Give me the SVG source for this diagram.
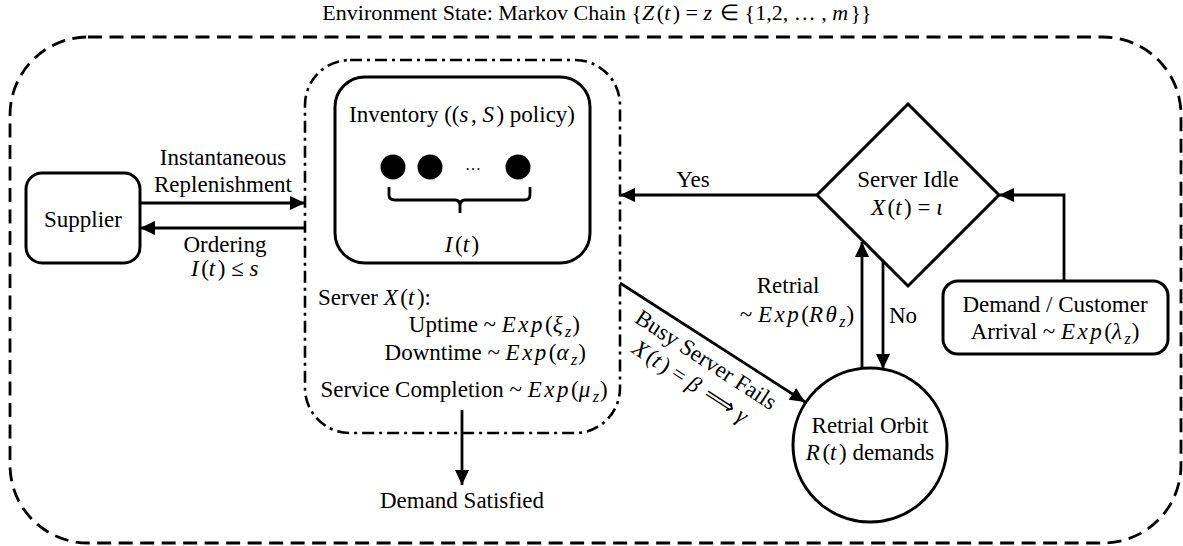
<svg xmlns="http://www.w3.org/2000/svg" width="1183" height="546" viewBox="0 0 1183 546" font-family="Liberation Serif, Times New Roman, serif" font-size="23">
<style>
.m{font-style:italic;letter-spacing:2.5px}
.sub{font-size:16px;font-style:italic;letter-spacing:1px}
.mid{text-anchor:middle}
.end{text-anchor:end}
.node{fill:#fff;stroke:#000;stroke-width:3}
.ln{fill:none;stroke:#000;stroke-width:2.8}
</style>
<defs>
<marker id="ah" markerUnits="userSpaceOnUse" markerWidth="16" markerHeight="14" refX="15" refY="7" orient="auto">
<path d="M0,0 L15,7 L0,14 z" fill="#000"/>
</marker>
</defs>
<rect width="1183" height="546" fill="#fff"/>
<g id="environment">
<rect x="10" y="37" width="1171" height="506" rx="78" fill="none" stroke="#000" stroke-width="2.8" stroke-dasharray="14,7.5"/>
<text class="mid" x="597" y="20" font-size="22">Environment State: Markov Chain {<tspan class="m">Z</tspan>(<tspan class="m">t</tspan>) = <tspan class="m">z</tspan> ∈ {1,2, … , <tspan class="m">m</tspan>}}</text>
</g>
<g id="server-area">
<rect x="305" y="60" width="315" height="373" rx="45" fill="none" stroke="#000" stroke-width="2.6" stroke-dasharray="12,5,3,5"/>
<text x="318" y="305">Server <tspan class="m">X</tspan>(<tspan class="m">t</tspan>):</text>
<text class="end" x="580" y="332">Uptime ~ <tspan class="m">Exp</tspan>(<tspan class="m">ξ</tspan><tspan class="sub" dy="5">z</tspan><tspan dy="-5">)</tspan></text>
<text class="end" x="586" y="360">Downtime ~ <tspan class="m">Exp</tspan>(<tspan class="m">α</tspan><tspan class="sub" dy="5">z</tspan><tspan dy="-5">)</tspan></text>
<text class="mid" x="464" y="397">Service Completion ~ <tspan class="m">Exp</tspan>(<tspan class="m">μ</tspan><tspan class="sub" dy="5">z</tspan><tspan dy="-5">)</tspan></text>
</g>
<g id="inventory">
<rect class="node" x="335" y="77" width="255" height="186" rx="30"/>
<text class="mid" x="462" y="122">Inventory ((<tspan class="m">s</tspan>, <tspan class="m">S</tspan>) policy)</text>
<circle cx="393" cy="167" r="12.5"/>
<circle cx="430" cy="167" r="12.5"/>
<circle cx="518" cy="167" r="12.5"/>
<text class="mid" x="473" y="170" font-size="16">…</text>
<path class="ln" d="M389,187 L389,195 Q389,200 395,200 L455,200 Q460,200 460,206 L460,213 M460,206 Q460,200 465,200 L524,200 Q530,200 530,195 L530,187"/>
<text class="mid" x="462" y="252"><tspan class="m">I</tspan>(<tspan class="m">t</tspan>)</text>
</g>
<g id="supplier">
<rect class="node" x="26" y="173" width="114" height="90" rx="16"/>
<text class="mid" x="83" y="227">Supplier</text>
</g>
<g id="server-idle">
<polygon class="node" points="908,104 999,195 908,286 817,195"/>
<text class="mid" x="908" y="187">Server Idle</text>
<text class="mid" x="908" y="215"><tspan class="m">X</tspan>(<tspan class="m">t</tspan>) = <tspan class="m">ι</tspan></text>
</g>
<g id="demand-arrival">
<rect class="node" x="943" y="281" width="225" height="73" rx="15"/>
<text class="mid" x="1055" y="312">Demand / Customer</text>
<text class="mid" x="1055" y="339">Arrival ~ <tspan class="m">Exp</tspan>(<tspan class="m">λ</tspan><tspan class="sub" dy="5">z</tspan><tspan dy="-5">)</tspan></text>
</g>
<g id="retrial-orbit">
<circle class="node" cx="870" cy="445" r="77"/>
<text class="mid" x="870" y="433">Retrial Orbit</text>
<text class="mid" x="870" y="460"><tspan class="m">R</tspan>(<tspan class="m">t</tspan>) demands</text>
</g>
<g id="demand-satisfied">
<text class="mid" x="462" y="508">Demand Satisfied</text>
</g>
<g id="connectors">
<line class="ln" x1="140" y1="203" x2="305" y2="203" marker-end="url(#ah)"/>
<line class="ln" x1="305" y1="228" x2="140" y2="228" marker-end="url(#ah)"/>
<line class="ln" x1="817" y1="195" x2="620" y2="195" marker-end="url(#ah)"/>
<line class="ln" x1="462" y1="410" x2="462" y2="485" marker-end="url(#ah)"/>
<line class="ln" x1="620" y1="283" x2="805" y2="402" marker-end="url(#ah)"/>
<line class="ln" x1="862" y1="368" x2="862" y2="242" marker-end="url(#ah)"/>
<line class="ln" x1="883" y1="261" x2="883" y2="369" marker-end="url(#ah)"/>
<polyline class="ln" points="1064,281 1064,195 999,195" marker-end="url(#ah)"/>
<text class="mid" x="223" y="165">Instantaneous</text>
<text class="mid" x="223" y="192">Replenishment</text>
<text class="mid" x="225" y="252">Ordering</text>
<text class="mid" x="226" y="276"><tspan class="m">I</tspan>(<tspan class="m">t</tspan>) ≤ <tspan class="m">s</tspan></text>
<text class="mid" x="693" y="187">Yes</text>
<text class="mid" x="788" y="293">Retrial</text>
<text class="mid" x="797" y="322">~ <tspan class="m">Exp</tspan>(<tspan class="m">Rθ</tspan><tspan class="sub" dy="5">z</tspan><tspan dy="-5">)</tspan></text>
<text x="889" y="323">No</text>
<g transform="translate(620,283) rotate(33)">
<text class="mid" x="114" y="25">Busy Server Fails</text>
<text class="mid" x="114" y="52"><tspan class="m">X</tspan>(<tspan class="m">t</tspan>) = <tspan class="m">β</tspan> ⟹ <tspan class="m">γ</tspan></text>
</g>
</g>
</svg>
